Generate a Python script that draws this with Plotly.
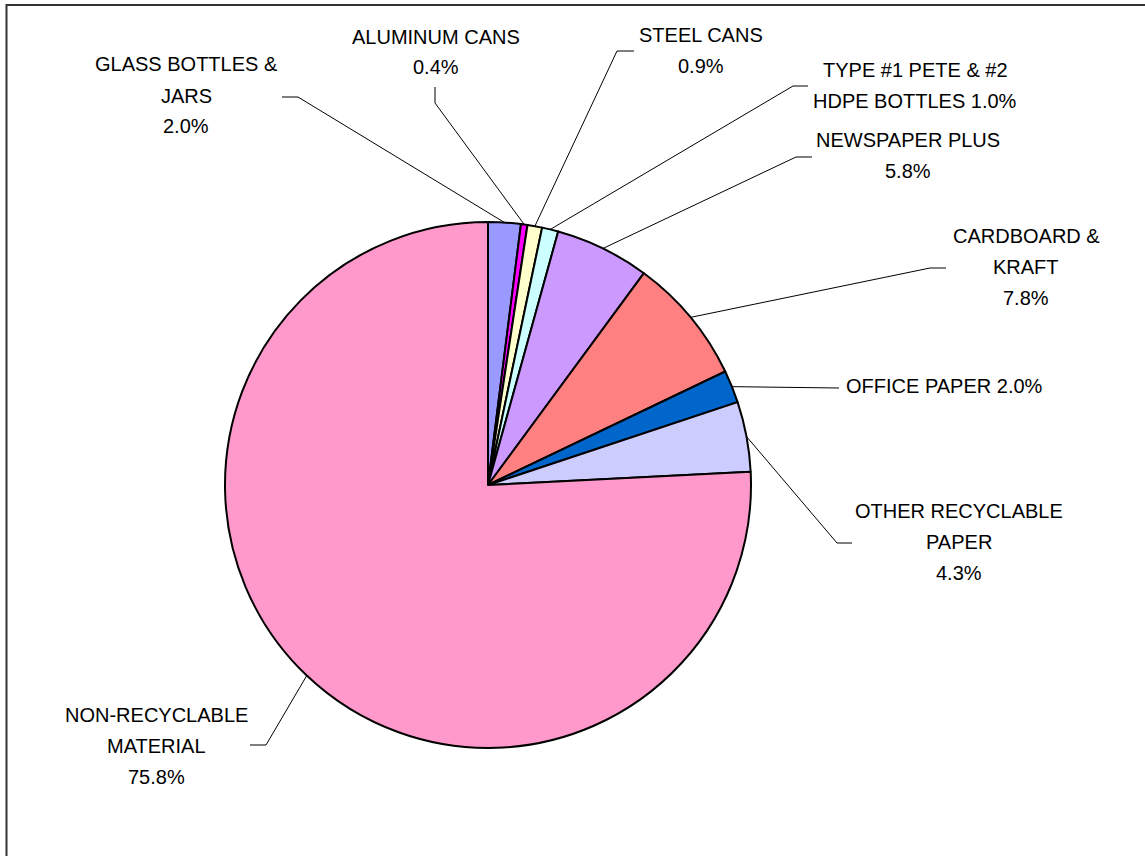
import math
import plotly.graph_objects as go

# Waste composition by material (percent of total)
categories = [
    "GLASS BOTTLES & JARS",
    "ALUMINUM CANS",
    "STEEL CANS",
    "TYPE #1 PETE & #2 HDPE BOTTLES",
    "NEWSPAPER PLUS",
    "CARDBOARD & KRAFT",
    "OFFICE PAPER",
    "OTHER RECYCLABLE PAPER",
    "NON-RECYCLABLE MATERIAL",
]
percent = [2.0, 0.4, 0.9, 1.0, 5.8, 7.8, 2.0, 4.3, 75.8]

# How each category name is broken over lines, and whether the
# percentage sits on its own line or follows the last name line
label_lines = [
    ["GLASS BOTTLES &", "JARS"],
    ["ALUMINUM CANS"],
    ["STEEL CANS"],
    ["TYPE #1 PETE & #2", "HDPE BOTTLES"],
    ["NEWSPAPER PLUS"],
    ["CARDBOARD &", "KRAFT"],
    ["OFFICE PAPER"],
    ["OTHER RECYCLABLE", "PAPER"],
    ["NON-RECYCLABLE", "MATERIAL"],
]
pct_inline = [False, False, False, True, False, False, True, False, False]

colors = ["#9999FF", "#FF00FF", "#FFFFCC", "#CCFFFF", "#CC99FF",
          "#FF8080", "#0066CC", "#CCCCFF", "#FF99CC"]

# ---- layout (pixel space of the 1145 x 856 page) ----
W, H = 1145, 856
CX, CY, R = 488, 485, 263

# label block: (x, y of first line, x-anchor)
label_pos = [
    (186, 64.5, "center"),
    (436, 36.5, "center"),
    (701, 34.7, "center"),
    (915, 70, "center"),
    (908, 139.5, "center"),
    (1026, 235.5, "center"),
    (844, 386, "left"),
    (959, 511, "center"),
    (156, 714.5, "center"),
]
LINE_GAP = 31

# leader line: elbow point and end of the short stub next to the label
leader = [
    ((298, 97), (282, 97)),
    ((435, 103), (435, 87)),
    ((617, 51), (634, 51)),
    ((793, 86), (808, 86)),
    ((796, 157), (812, 157)),
    ((930, 268), (946, 268)),
    ((839, 388), (839, 388)),
    ((837, 543), (852, 543)),
    ((266, 745), (250, 745)),
]


def px(x):
    return x / W


def py(y):
    return 1 - y / H


fig = go.Figure()
fig.add_trace(go.Pie(
    labels=categories,
    values=percent,
    sort=False,
    direction="clockwise",
    rotation=0,
    textinfo="none",
    hoverinfo="label+percent",
    marker=dict(colors=colors, line=dict(color="#000000", width=2)),
    domain=dict(x=[px(CX - R), px(CX + R)], y=[py(CY + R), py(CY - R)]),
    showlegend=False,
))

shapes = []
annotations = []
total = sum(percent)
cum = 0.0
for i, v in enumerate(percent):
    mid = (cum + v / 2) / total * 2 * math.pi
    cum += v
    ax = CX + R * math.sin(mid)
    ay = CY - R * math.cos(mid)
    (ex, ey), (sx, sy) = leader[i]
    shapes.append(dict(
        type="path", xref="paper", yref="paper",
        path=f"M {px(ax)} {py(ay)} L {px(ex)} {py(ey)} L {px(sx)} {py(sy)}",
        line=dict(color="#000000", width=1),
    ))

    pct = f"{v:.1f}%"
    lines = list(label_lines[i])
    if pct_inline[i]:
        lines[-1] = f"{lines[-1]} {pct}"
    else:
        lines.append(pct)
    lx, ly, anchor = label_pos[i]
    for k, t in enumerate(lines):
        annotations.append(dict(
            text=t, xref="paper", yref="paper",
            x=px(lx), y=py(ly + k * LINE_GAP),
            xanchor=anchor, yanchor="middle", showarrow=False,
            font=dict(family="Liberation Sans, Arial, sans-serif",
                      size=20, color="#000000"),
        ))

# chart-area frame
shapes.append(dict(
    type="rect", xref="paper", yref="paper",
    x0=px(6.5), y0=py(900), x1=px(1200), y1=py(5),
    line=dict(color="#333333", width=2), fillcolor="rgba(0,0,0,0)",
))

fig.update_layout(
    width=W, height=H,
    margin=dict(l=0, r=0, t=0, b=0),
    paper_bgcolor="#FFFFFF",
    plot_bgcolor="#FFFFFF",
    shapes=shapes,
    annotations=annotations,
)

fig.write_html("out.html")
